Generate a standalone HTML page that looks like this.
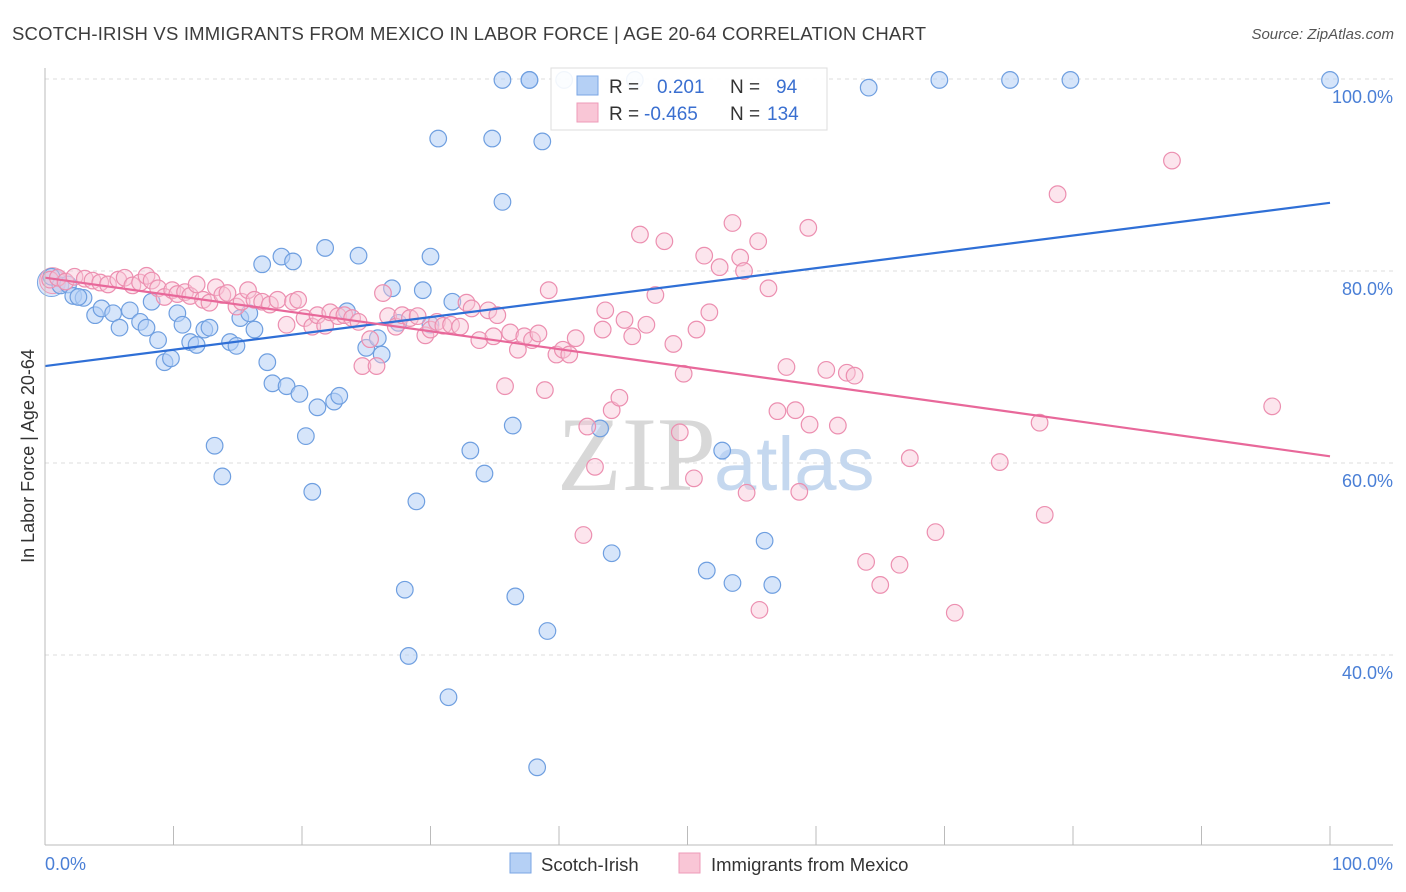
<!DOCTYPE html>
<html><head><meta charset="utf-8">
<style>
body{margin:0;background:#fff;font-family:"Liberation Sans",sans-serif;}
#wrap{position:relative;width:1406px;height:892px;overflow:hidden;}
</style></head>
<body>
<div id="wrap">
<svg id="svg" width="1406" height="892" xmlns="http://www.w3.org/2000/svg">
<text x="12" y="40" font-size="18.5" fill="#3c3c3c" textLength="914" lengthAdjust="spacing">SCOTCH-IRISH VS IMMIGRANTS FROM MEXICO IN LABOR FORCE | AGE 20-64 CORRELATION CHART</text>
<text x="1394" y="39" font-size="15" fill="#555" text-anchor="end" font-style="italic">Source: ZipAtlas.com</text>
<g id="grid"></g>
<text x="716" y="490" font-size="106" font-family="Liberation Serif,serif" fill="#d8d8d8" text-anchor="end">ZIP</text>
<text x="714" y="490" font-size="76" fill="#c5d8ef">atlas</text>
<g id="pts"></g>
<g id="lines"></g>
<line x1="45" y1="68" x2="45" y2="845" stroke="#bbb"/>
<line x1="45" y1="845" x2="1393" y2="845" stroke="#bbb"/>
<g id="ticks"></g>
<text transform="translate(34,456) rotate(-90)" font-size="18" fill="#333" text-anchor="middle">In Labor Force | Age 20-64</text>
<text x="45" y="870" font-size="18" fill="#4a7fd6">0.0%</text>
<text x="1393" y="870" font-size="18" fill="#4a7fd6" text-anchor="end">100.0%</text>
<g>
<rect x="551" y="68" width="276" height="62" fill="#fff" fill-opacity="0.9" stroke="#ddd"/>
<rect x="577" y="76" width="21" height="19" fill="#b5d0f5" stroke="#7aa6e4"/>
<rect x="577" y="103" width="21" height="19" fill="#f9c6d6" stroke="#ee9bb8"/>
<text x="609" y="93" font-size="19" fill="#333">R =</text>
<text x="657" y="93" font-size="19" fill="#3a6fd0">0.201</text>
<text x="730" y="93" font-size="19" fill="#333">N =</text>
<text x="776" y="93" font-size="19" fill="#3a6fd0">94</text>
<text x="609" y="120" font-size="19" fill="#333">R =</text>
<text x="644" y="120" font-size="19" fill="#3a6fd0">-0.465</text>
<text x="730" y="120" font-size="19" fill="#333">N =</text>
<text x="767" y="120" font-size="19" fill="#3a6fd0">134</text>
</g>
<g>
<rect x="510" y="853" width="21" height="20" fill="#b5d0f5" stroke="#7aa6e4"/>
<text x="541" y="871" font-size="18.5" fill="#333">Scotch-Irish</text>
<rect x="679" y="853" width="21" height="20" fill="#f9c6d6" stroke="#ee9bb8"/>
<text x="711" y="871" font-size="18.5" fill="#333">Immigrants from Mexico</text>
</g>
</svg>
</div>
<script>
const yTicks=[100,80,60,40];
const yTickLabels=["100.0%","80.0%","60.0%","40.0%"];
const xTicks=[0,10,20,30,40,50,60,70,80,90,100];
const blueX=[35.6,37.7,37.7,40.4,45.9,64.1,69.6,75.1,79.8,100,30.6,34.8,38.7,35.6,21.8,24.4,30.0,16.9,18.4,19.3,0.5,1.2,1.8,2.2,3.0,2.6,3.9,4.4,5.3,5.8,6.6,7.4,7.9,8.3,8.8,9.3,9.8,10.3,10.7,11.3,11.8,12.4,12.8,14.4,14.9,15.2,15.9,16.3,17.3,17.7,18.8,19.8,20.3,20.8,21.2,22.5,22.9,23.5,25.0,25.9,26.2,27.0,27.5,29.4,31.7,13.2,13.8,33.1,34.2,36.4,28.9,43.2,44.1,52.7,51.5,53.5,56.0,56.6,28.0,36.6,39.1,28.3,31.4,38.3,30.0];
const blueY=[99.9,99.9,99.9,99.9,99.9,99.1,99.9,99.9,99.9,99.9,93.8,93.8,93.5,87.2,82.4,81.6,81.5,80.7,81.5,81.0,79.4,78.5,78.6,77.4,77.2,77.3,75.4,76.1,75.6,74.1,75.9,74.7,74.1,76.8,72.8,70.5,70.9,75.6,74.4,72.6,72.3,73.9,74.1,72.6,72.2,75.1,75.6,73.9,70.5,68.3,68.0,67.2,62.8,57.0,65.8,66.4,67.0,75.8,72.0,73.0,71.3,78.2,74.6,78.0,76.8,61.8,58.6,61.3,58.9,63.9,56.0,63.6,50.6,61.3,48.8,47.5,51.9,47.3,46.8,46.1,42.5,39.9,35.6,28.3,74.4];
const pinkX=[0.4,1.0,1.6,2.3,3.1,3.7,4.3,4.9,5.7,6.2,6.8,7.4,7.9,8.3,8.8,9.3,9.9,10.3,10.9,11.3,11.8,12.3,12.8,13.3,13.8,14.2,14.9,15.3,15.8,16.3,16.9,17.5,18.1,18.8,19.3,19.7,20.2,20.8,21.2,21.8,22.2,22.8,23.3,23.9,24.4,24.7,25.3,25.8,26.3,26.7,27.3,27.8,28.4,29.0,29.6,30.0,30.5,31.0,31.6,32.3,32.8,33.2,33.8,34.5,34.9,35.2,35.8,36.2,36.8,37.3,37.9,38.4,38.9,39.2,39.8,40.3,40.8,41.3,42.2,42.8,43.6,43.4,44.1,44.7,45.1,45.7,46.3,46.8,47.5,48.2,48.9,49.4,49.7,50.5,50.7,51.3,51.7,52.5,53.5,54.1,54.4,55.5,56.3,54.6,55.6,57.0,57.7,58.4,58.7,59.4,59.5,60.8,61.7,62.4,63.0,63.9,65.0,66.5,67.3,69.3,70.8,74.3,77.4,77.8,78.8,87.7,95.5,41.9];
const pinkY=[79.1,79.3,78.9,79.4,79.2,79.0,78.8,78.6,79.1,79.3,78.5,78.8,79.5,79.0,78.2,77.3,78.0,77.6,77.8,77.4,78.6,77.0,76.7,78.3,77.5,77.7,76.3,76.8,78.0,77.0,76.8,76.5,77.0,74.4,76.8,77.0,75.1,74.2,75.4,74.3,75.7,75.3,75.4,75.1,74.7,70.1,72.9,70.1,77.7,75.3,74.2,75.4,75.1,75.3,73.3,73.9,74.7,74.3,74.4,74.2,76.7,76.1,72.8,75.9,73.2,75.4,68.0,73.6,71.8,73.2,72.8,73.5,67.6,78.0,71.3,71.8,71.3,73.0,63.8,59.6,75.9,73.9,65.5,66.8,74.9,73.2,83.8,74.4,77.5,83.1,72.4,63.2,69.3,58.4,73.9,81.6,75.7,80.4,85.0,81.4,80.0,83.1,78.2,56.9,44.7,65.4,70.0,65.5,57.0,84.5,64.0,69.7,63.9,69.4,69.1,49.7,47.3,49.4,60.5,52.8,44.4,60.1,64.2,54.6,88.0,91.5,65.9,52.5];
const blueTrend=[70.1,87.1];
const pinkTrend=[79.3,60.7];
const NS="http://www.w3.org/2000/svg";
function sx(v){return 45+v*12.85;}
function sy(v){return 79+(100-v)*9.6;}
function mk(tag,attrs,parent){const e=document.createElementNS(NS,tag);for(const k in attrs)e.setAttribute(k,attrs[k]);parent.appendChild(e);return e;}
const grid=document.getElementById('grid');
yTicks.forEach((t,i)=>{
  const l=mk('line',{x1:45,x2:1393,y1:sy(t),y2:sy(t),stroke:'#ddd','stroke-dasharray':'4,4'},grid);
  
  
  const tx=mk('text',{x:1393,y:sy(t)+24,'font-size':18,fill:'#4a7fd6','text-anchor':'end'},grid);
  tx.textContent=yTickLabels[i];
  
  
});
const ticks=document.getElementById('ticks');
xTicks.forEach(t=>{
  const l=mk('line',{x1:sx(t),x2:sx(t),y1:826,y2:845,stroke:'#bbb'},ticks);
  
  
});
const pts=document.getElementById('pts');
mk('circle',{cx:sx(0.5),cy:sy(78.8),r:14,fill:'#b5d0f5','fill-opacity':0.5,stroke:'#7aa6e4'},pts);
mk('circle',{cx:sx(0.6),cy:sy(79),r:13,fill:'#f9c6d6','fill-opacity':0.5,stroke:'#ee9bb8'},pts);
blueX.forEach((x,i)=>{
  const c=mk('circle',{cx:sx(x),cy:sy(blueY[i]),r:8.3,fill:'#b5d0f5','fill-opacity':0.55,stroke:'#6f9fe0','stroke-width':1.2},pts);
  
  
});
pinkX.forEach((x,i)=>{
  const c=mk('circle',{cx:sx(x),cy:sy(pinkY[i]),r:8.3,fill:'#f9c6d6','fill-opacity':0.45,stroke:'#ec8fb0','stroke-width':1.2},pts);
  
  
});
const lines=document.getElementById('lines');
const bl=mk('line',{x1:sx(0),y1:sy(blueTrend[0]),x2:sx(100),y2:sy(blueTrend[1]),stroke:'#2f6fd6','stroke-width':2.2},lines);


const pl=mk('line',{x1:sx(0),y1:sy(pinkTrend[0]),x2:sx(100),y2:sy(pinkTrend[1]),stroke:'#e8689a','stroke-width':2.2},lines);


</script>
</body></html>
